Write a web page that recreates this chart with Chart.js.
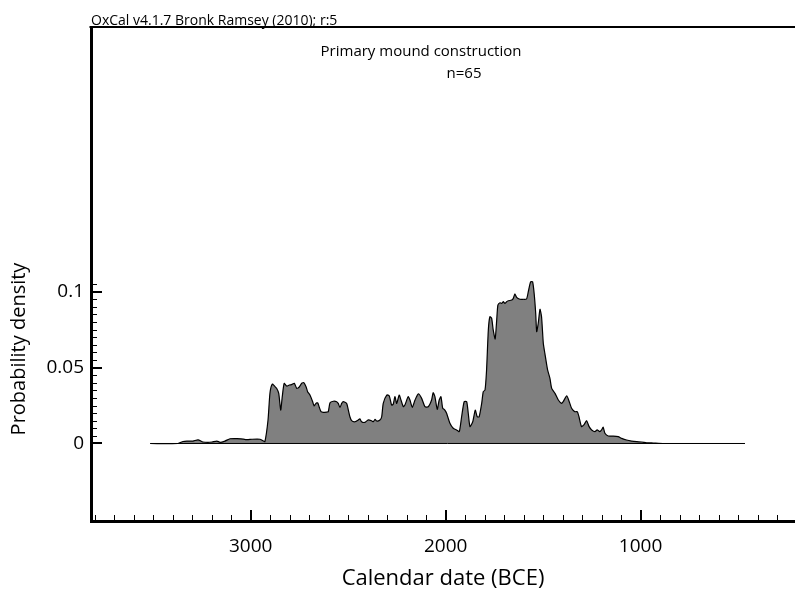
<!DOCTYPE html>
<html>
<head>
<meta charset="utf-8">
<script src="https://cdn.jsdelivr.net/npm/chart.js@4.4.0/dist/chart.umd.min.js"></script>
<style>
  body { margin: 0; background: #fff; }
  #wrap { width: 795px; height: 594px; }
</style>
</head>
<body>
<div id="wrap"><canvas id="oxcal" width="795" height="594"></canvas></div>
<script>
// summed probability (years BCE / density)
const years = [3515, 3373, 3347, 3327, 3296, 3270, 3245, 3219, 3198, 3173, 3157, 3132, 3106, 3070, 3050, 3019, 2993, 2952, 2937, 2927,
  2911, 2901, 2889, 2875, 2867, 2856, 2846, 2838, 2828, 2815, 2802, 2790, 2776, 2764, 2752, 2738, 2727, 2716, 2708, 2696,
  2682, 2675, 2665, 2656, 2648, 2639, 2628, 2610, 2602, 2593, 2576, 2559, 2551, 2542, 2533, 2525, 2508, 2499, 2491, 2482,
  2465, 2448, 2440, 2431, 2414, 2397, 2380, 2371, 2362, 2354, 2337, 2328, 2320, 2302, 2289, 2277, 2269, 2260, 2251, 2238,
  2229, 2217, 2209, 2192, 2183, 2171, 2157, 2140, 2123, 2106, 2089, 2072, 2064, 2055, 2043, 2033, 2024, 2015, 2004, 1995,
  1978, 1961, 1944, 1930, 1918, 1905, 1892, 1884, 1875, 1861, 1848, 1838, 1828, 1815, 1807, 1798, 1790, 1781, 1773, 1764,
  1756, 1746, 1738, 1732, 1721, 1713, 1704, 1696, 1687, 1679, 1661, 1653, 1645, 1636, 1619, 1602, 1585, 1576, 1564, 1554,
  1546, 1538, 1533, 1525, 1516, 1508, 1499, 1491, 1477, 1465, 1456, 1439, 1422, 1405, 1397, 1379, 1366, 1354, 1337, 1325,
  1316, 1303, 1291, 1277, 1264, 1251, 1234, 1223, 1209, 1200, 1192, 1183, 1166, 1140, 1115, 1097, 1072, 1046, 1020, 995,
  969, 935, 885, 465];
const density = [0, 0, 0.0013, 0.0016, 0.0016, 0.0024, 0.0010, 0.0007, 0.0010, 0.0016, 0.0008, 0.0016, 0.0031, 0.0032, 0.0031, 0.0025, 0.0028, 0.0028, 0.0018, 0.0013,
  0.0155, 0.0332, 0.0391, 0.0374, 0.0363, 0.0330, 0.0220, 0.0308, 0.0396, 0.0378, 0.0385, 0.0387, 0.0396, 0.0363, 0.0370, 0.0396, 0.0400, 0.0374, 0.0341, 0.0319,
  0.0275, 0.0247, 0.0264, 0.0268, 0.0238, 0.0209, 0.0205, 0.0207, 0.0209, 0.0268, 0.0278, 0.0275, 0.0264, 0.0238, 0.0264, 0.0275, 0.0264, 0.0220, 0.0176, 0.0150,
  0.0143, 0.0155, 0.0163, 0.0143, 0.0139, 0.0155, 0.0150, 0.0143, 0.0159, 0.0148, 0.0155, 0.0176, 0.0264, 0.0319, 0.0313, 0.0253, 0.0258, 0.0308, 0.0264, 0.0319,
  0.0286, 0.0242, 0.0253, 0.0308, 0.0286, 0.0238, 0.0286, 0.0326, 0.0297, 0.0242, 0.0242, 0.0286, 0.0334, 0.0308, 0.0225, 0.0286, 0.0308, 0.0232, 0.0220, 0.0199,
  0.0133, 0.0100, 0.0089, 0.0078, 0.0176, 0.0275, 0.0275, 0.0199, 0.0111, 0.0143, 0.0220, 0.0176, 0.0176, 0.0264, 0.0341, 0.0352, 0.0484, 0.0747, 0.0834, 0.0824,
  0.0747, 0.0688, 0.0813, 0.0911, 0.0926, 0.0922, 0.0933, 0.0922, 0.0933, 0.0939, 0.0944, 0.0955, 0.0984, 0.0962, 0.0949, 0.0949, 0.0951, 0.0999, 0.1064, 0.1064,
  0.0988, 0.0857, 0.0736, 0.0791, 0.0883, 0.0834, 0.0659, 0.0593, 0.0484, 0.0429, 0.0363, 0.0330, 0.0286, 0.0264, 0.0275, 0.0313, 0.0275, 0.0232, 0.0209, 0.0209,
  0.0176, 0.0111, 0.0122, 0.0150, 0.0111, 0.0089, 0.0078, 0.0089, 0.0078, 0.0089, 0.0107, 0.0067, 0.0049, 0.0049, 0.0045, 0.0034, 0.0023, 0.0016, 0.0012, 0.0010,
  0.0005, 0.0003, 0, 0];

// modelled range drawn as the zero line
const rangeYears = [3515, 465];

const xMajorTicks = [3000, 2000, 1000];
const xMinorTicks = [3800, 3700, 3600, 3500, 3400, 3300, 3200, 3100, 2900, 2800, 2700, 2600, 2500, 2400, 2300, 2200, 2100,
  1900, 1800, 1700, 1600, 1500, 1400, 1300, 1200, 1100, 900, 800, 700, 600, 500, 400, 300];
const yMajorTicks = [0, 0.05, 0.1];
const yMinorTicks = [0.005, 0.01, 0.015, 0.02, 0.025, 0.03, 0.035, 0.04, 0.045,
  0.055, 0.06, 0.065, 0.07, 0.075, 0.08, 0.085, 0.09, 0.095, 0.105];

const plotTitle = 'Primary mound construction';
const plotCount = 'n=65';
const credit = 'OxCal v4.1.7 Bronk Ramsey (2010); r:5';
const xTitle = 'Calendar date (BCE)';
const yTitle = 'Probability density';

const FONT = "'Open Sans', sans-serif";
Chart.defaults.font.family = FONT;
Chart.defaults.color = '#000';

// frame top line, inward tick marks and the texts
const oxcalFrame = {
  id: 'oxcalFrame',
  afterDraw(chart) {
    const { ctx, chartArea: a, scales: { x, y } } = chart;
    ctx.save();
    ctx.beginPath();
    ctx.rect(a.left, a.top - 2, a.right - a.left, a.bottom - a.top + 4);
    ctx.clip();
    ctx.strokeStyle = '#000';

    // x ticks (pointing up into the plot)
    ctx.lineWidth = 1;
    xMinorTicks.forEach(v => {
      const px = Math.round(x.getPixelForValue(v)) + 0.5;
      ctx.beginPath(); ctx.moveTo(px, a.bottom); ctx.lineTo(px, a.bottom - 6); ctx.stroke();
    });
    ctx.lineWidth = 2;
    xMajorTicks.forEach(v => {
      const px = Math.round(x.getPixelForValue(v));
      ctx.beginPath(); ctx.moveTo(px, a.bottom); ctx.lineTo(px, a.bottom - 11); ctx.stroke();
    });
    // y ticks (pointing right into the plot)
    ctx.lineWidth = 1;
    yMinorTicks.forEach(v => {
      const py = Math.round(y.getPixelForValue(v)) + 0.5;
      ctx.beginPath(); ctx.moveTo(a.left, py); ctx.lineTo(a.left + 6, py); ctx.stroke();
    });
    ctx.lineWidth = 2;
    yMajorTicks.forEach(v => {
      const py = Math.round(y.getPixelForValue(v));
      ctx.beginPath(); ctx.moveTo(a.left, py); ctx.lineTo(a.left + 11, py); ctx.stroke();
    });
    ctx.restore();

    ctx.save();
    // top border
    ctx.strokeStyle = '#000';
    ctx.lineWidth = 2;
    ctx.beginPath(); ctx.moveTo(a.left - 1.5, a.top - 1); ctx.lineTo(a.right, a.top - 1); ctx.stroke();

    ctx.fillStyle = '#000';
    ctx.textBaseline = 'alphabetic';
    ctx.textAlign = 'left';
    ctx.font = '14px ' + FONT;
    ctx.fillText(credit, a.left, a.top - 3);

    ctx.textAlign = 'center';
    ctx.textBaseline = 'middle';
    ctx.font = '15px ' + FONT;
    ctx.fillText(plotTitle, 421, 52);
    ctx.fillText(plotCount, 464, 74);

    ctx.font = '22px ' + FONT;
    ctx.fillText(xTitle, (a.left + a.right) / 2, 579);

    ctx.font = '20px ' + FONT;
    ctx.translate(19, 349);
    ctx.rotate(-Math.PI / 2);
    ctx.fillText(yTitle, 0, 0);
    ctx.restore();
  }
};

const ctx = document.getElementById('oxcal').getContext('2d');
new Chart(ctx, {
  type: 'line',
  data: {
    datasets: [{
      data: years.map((yr, i) => ({ x: yr, y: density[i] })),
      backgroundColor: '#808080',
      borderColor: '#000',
      borderWidth: 1.2,
      pointRadius: 0,
      tension: 0.2,
      fill: 'origin',
      order: 1
    }, {
      data: rangeYears.map(yr => ({ x: yr, y: 0 })),
      borderColor: '#000',
      borderWidth: 1,
      pointRadius: 0,
      fill: false,
      order: 0
    }]
  },
  options: {
    responsive: false,
    animation: false,
    events: [],
    layout: { padding: { top: 28, left: 0, right: 0, bottom: 0 } },
    plugins: { legend: { display: false }, tooltip: { enabled: false } },
    scales: {
      x: {
        type: 'linear',
        reverse: true,
        min: 208,
        max: 3819,
        afterFit: s => { s.height = 73; },
        afterBuildTicks: s => { s.ticks = xMajorTicks.map(v => ({ value: v })); },
        grid: { display: false, drawTicks: false },
        border: { display: true, color: '#000', width: 3 },
        ticks: { font: { size: 19 }, padding: 14, maxRotation: 0, autoSkip: false, callback: v => String(v) }
      },
      y: {
        type: 'linear',
        min: -0.051,
        max: 0.2734,
        afterFit: s => { s.width = 91; },
        afterBuildTicks: s => { s.ticks = yMajorTicks.map(v => ({ value: v })); },
        grid: { display: false, drawTicks: false },
        border: { display: true, color: '#000', width: 3 },
        ticks: { font: { size: 19 }, padding: 7, autoSkip: false, callback: v => String(v) }
      }
    }
  },
  plugins: [oxcalFrame]
});
</script>
</body>
</html>
